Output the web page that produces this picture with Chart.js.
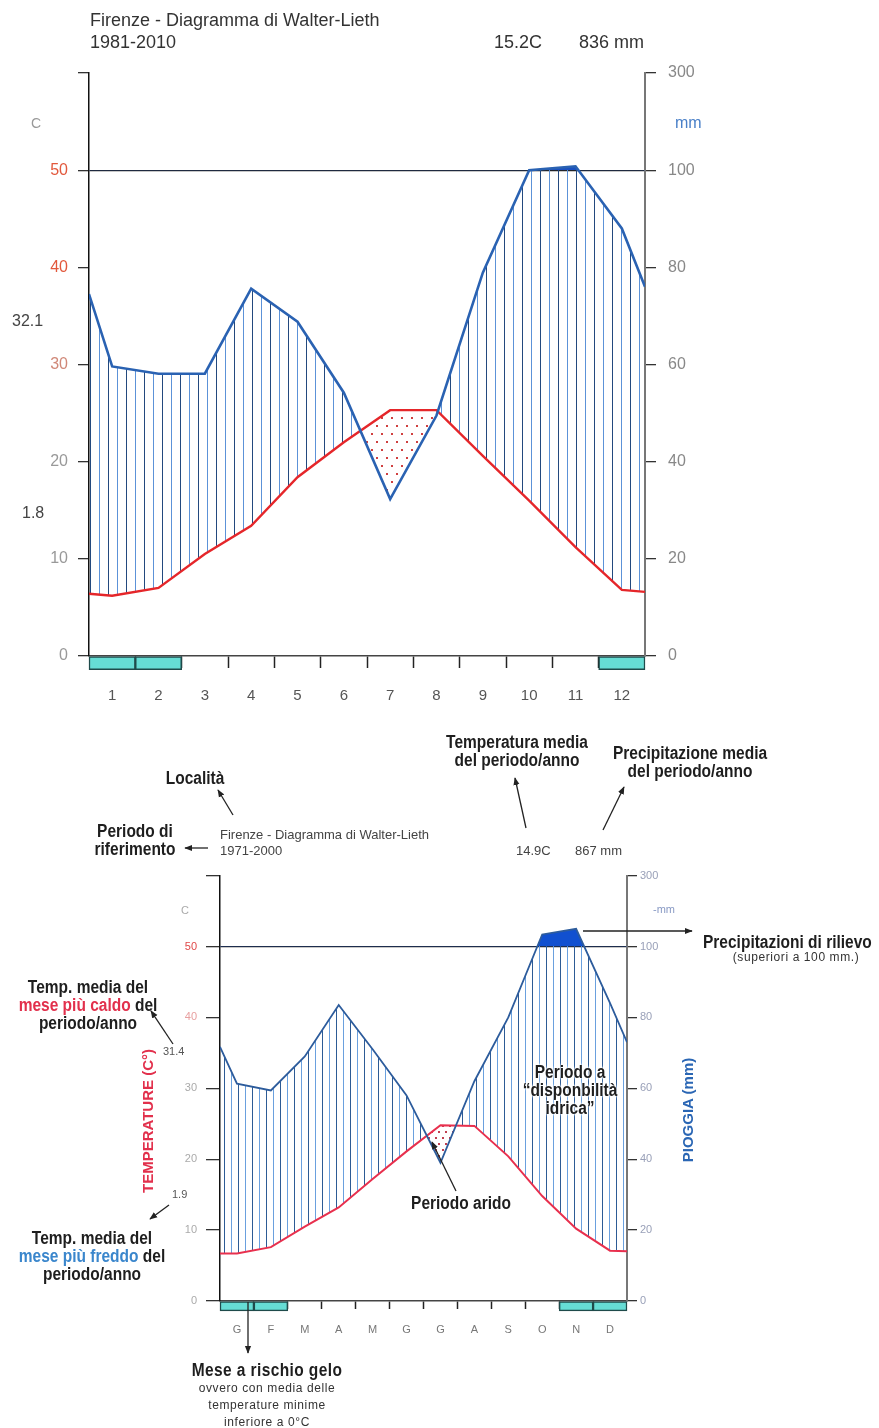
<!DOCTYPE html>
<html>
<head>
<meta charset="utf-8">
<script src="https://cdn.jsdelivr.net/npm/chart.js@4.4.1/dist/chart.umd.min.js"></script>
<style>
body { margin:0; background:#fff; }
#page { position:relative; width:879px; height:1428px; overflow:hidden; background:#fff;
        font-family:"Liberation Sans", Arial, sans-serif; }
canvas { position:absolute; left:0; }
svg { position:absolute; left:0; top:0; }
.t { position:absolute; white-space:nowrap; color:#333; line-height:1; }
.c { transform:translate(-50%, -50%); text-align:center; }
/* grassetto "stretto": Liberation Sans allungata in verticale */
.b { font-weight:bold; color:#1e1e1e; font-size:15.5px; line-height:15.6px;
     transform:scaleY(1.15); transform-origin:left center; }
.c.b { transform:translate(-50%, -50%) scaleY(1.15); transform-origin:center center; }
.s { color:#333; font-size:12px; line-height:17px; letter-spacing:0.6px; }
.rot { transform:translate(-50%, -50%) rotate(-90deg); font-weight:bold; font-size:15px; }
.halo { text-shadow:0 0 3px #fff, 0 0 3px #fff, 0 0 2px #fff; }
.red { color:#e2304c; }
.blue { color:#3a86cc; }
</style>
</head>
<body>
<div id="page">
  <canvas id="wl1" width="879" height="720" style="top:0"></canvas>
  <canvas id="wl2" width="879" height="491" style="top:860px"></canvas>

  <svg width="879" height="1428">
    <defs>
      <marker id="ah" viewBox="0 0 10 10" refX="9" refY="5" markerWidth="6" markerHeight="6" orient="auto">
        <path d="M0,1 L10,5 L0,9 z" fill="#222"/>
      </marker>
    </defs>
    <g stroke="#222" stroke-width="1.3" marker-end="url(#ah)">
      <line x1="233" y1="815" x2="218" y2="790"/>
      <line x1="208" y1="848" x2="185" y2="848"/>
      <line x1="526" y1="828" x2="515" y2="778"/>
      <line x1="603" y1="830" x2="624" y2="787"/>
      <line x1="583" y1="931" x2="692" y2="931"/>
      <line x1="173" y1="1044" x2="151" y2="1011"/>
      <line x1="169" y1="1205" x2="150" y2="1219"/>
      <line x1="456" y1="1191" x2="432" y2="1142"/>
      <line x1="248" y1="1302" x2="248" y2="1353"/>
    </g>
  </svg>

  <!-- diagramma 1981-2010 -->
  <div class="t" style="left:90px;top:11px;font-size:18px">Firenze - Diagramma di Walter-Lieth</div>
  <div class="t" style="left:90px;top:33px;font-size:18px">1981-2010</div>
  <div class="t" style="left:494px;top:33px;font-size:18px">15.2C</div>
  <div class="t" style="left:579px;top:33px;font-size:18px">836 mm</div>
  <div class="t c" style="left:36px;top:123px;font-size:14px;color:#999">C</div>
  <div class="t" style="left:675px;top:115px;font-size:16px;color:#4a80c8">mm</div>
  <div class="t" style="left:12px;top:313px;font-size:16px;color:#444">32.1</div>
  <div class="t" style="left:22px;top:505px;font-size:16px;color:#444">1.8</div>

  <!-- diagramma commentato 1971-2000 -->
  <div class="t b c" style="left:517px;top:751px">Temperatura media<br>del periodo/anno</div>
  <div class="t b c" style="left:690px;top:762px">Precipitazione media<br>del periodo/anno</div>
  <div class="t b c" style="left:195px;top:778px">Località</div>
  <div class="t b c" style="left:135px;top:840px">Periodo di<br>riferimento</div>
  <div class="t" style="left:220px;top:828px;font-size:13px;color:#444">Firenze - Diagramma di Walter-Lieth</div>
  <div class="t" style="left:220px;top:844px;font-size:13px;color:#444">1971-2000</div>
  <div class="t" style="left:516px;top:844px;font-size:13px;color:#444">14.9C</div>
  <div class="t" style="left:575px;top:844px;font-size:13px;color:#444">867 mm</div>
  <div class="t c" style="left:185px;top:910px;font-size:11px;color:#aaa">C</div>
  <div class="t" style="left:653px;top:904px;font-size:11px;color:#8899c4">-mm</div>

  <div class="t b" style="left:703px;top:934px">Precipitazioni di rilievo</div>
  <div class="t s c" style="left:796px;top:957px">(superiori a 100 mm.)</div>

  <div class="t b c" style="left:88px;top:1005px">Temp. media del<br><span class="red">mese più caldo</span> del<br>periodo/anno</div>
  <div class="t" style="left:163px;top:1046px;font-size:11px;color:#555">31.4</div>
  <div class="t" style="left:172px;top:1189px;font-size:11px;color:#555">1.9</div>
  <div class="t b c" style="left:92px;top:1256px">Temp. media del<br><span class="blue">mese più freddo</span> del<br>periodo/anno</div>

  <div class="t rot red" style="left:147px;top:1121px">TEMPERATURE (C°)</div>
  <div class="t rot" style="left:687px;top:1110px;color:#2a66b4">PIOGGIA (mm)</div>

  <div class="t b c halo" style="left:570px;top:1090px">Periodo a<br>“disponbilità<br>idrica”</div>
  <div class="t b c" style="left:461px;top:1203px">Periodo arido</div>

  <div class="t b c" style="left:267px;top:1370px;letter-spacing:0.4px">Mese a rischio gelo</div>
  <div class="t s c" style="left:267px;top:1405px">ovvero con media delle<br>temperature minime<br>inferiore a 0°C</div>
</div>

<script>
// valori (mm e gradi C)
const monthNums = ['1', '2', '3', '4', '5', '6', '7', '8', '9', '10', '11', '12'];
const monthLetters = ['G', 'F', 'M', 'A', 'M', 'G', 'G', 'A', 'S', 'O', 'N', 'D'];

// Firenze 1981-2010
const temp8110 = [6.2, 7.0, 10.5, 13.4, 18.4, 22.0, 25.3, 25.3, 20.6, 16.0, 11.2, 6.8];
const prec8110 = [59.6, 58.1, 58.1, 75.6, 68.8, 54.2, 32.3, 49.5, 78.9, 100, 108, 88];
const tempEdge8110 = [6.4, 6.6];      // bordo sinistro / destro (dic-gen)
const precEdge8110 = [74.5, 76];
const frost8110 = [1, 2, 12];

// Firenze 1971-2000
const temp7100 = [6.7, 7.6, 10.5, 13.2, 17.2, 21.1, 24.8, 24.7, 20.4, 14.8, 10.2, 7.1];
const prec7100 = [61.3, 59.4, 69, 83.5, 71, 58, 39, 62, 80, 134, 150, 84];
const tempEdge7100 = [6.7, 7.0];
const precEdge7100 = [71.7, 73];
const frost7100 = [1, 2, 11, 12];

const tempTicks = [0, 10, 20, 30, 40, 50, 60];
const precTicks = [0, 20, 40, 60, 80, 100, 120];
const precTickLabels = ['0', '20', '40', '60', '80', '100', '300'];

Chart.defaults.font.family = '"Liberation Sans", Arial, sans-serif';
Chart.defaults.animation = false;

// sopra i 100 mm la scala della pioggia e' ridotta a 1/10
function precScale(p)
{
    return p > 100 ? 100 + (p - 100) / 10 : p;
}

function series(vals, edges, f)
{
    f = f || (v => v);
    const pts = [{x: 0, y: f(edges[0])}];
    vals.forEach((v, i) => pts.push({x: i + 0.5, y: f(v)}));
    pts.push({x: 12, y: f(edges[1])});
    return pts;
}

function hatch(step, colors)
{
    const c = document.createElement('canvas');
    c.width = step * colors.length;
    c.height = 4;
    const g = c.getContext('2d');
    colors.forEach((col, i) => {
        g.fillStyle = col;
        g.fillRect(i * step, 0, 1, 4);
    });
    return g.createPattern(c, 'repeat');
}

function dots(sx, sy, color)
{
    const c = document.createElement('canvas');
    c.width = sx;
    c.height = sy * 2;
    const g = c.getContext('2d');
    g.fillStyle = color;
    g.fillRect(1, 1, 2, 2);
    g.fillRect(Math.floor(sx / 2) + 1, sy + 1, 2, 2);
    return g.createPattern(c, 'repeat');
}

function walterLieth(canvas, d, s)
{
    const temp = series(d.temp, d.tempEdge);
    const prec = series(d.prec, d.precEdge, precScale);

    const config = {
        type: 'line',
        data: {
            datasets: [
                {   // 0 temperatura
                    data: temp, yAxisID: 'y', xAxisID: 'x',
                    borderColor: s.red, borderWidth: s.redW,
                    pointRadius: 0, tension: 0, fill: false, order: 1,
                },
                {   // 1 pioggia
                    data: prec, yAxisID: 'y2', xAxisID: 'x',
                    borderColor: s.blue, borderWidth: s.blueW,
                    pointRadius: 0, tension: 0, fill: false, order: 0,
                },
                {   // 2 tratteggio umido / punteggiato arido
                    data: prec, yAxisID: 'y2', xAxisID: 'x',
                    borderWidth: 0, borderColor: 'rgba(0,0,0,0)', pointRadius: 0, tension: 0,
                    fill: {target: 0, above: hatch(s.hatch, s.hatchColors), below: dots(s.dotX, s.dotY, s.dotColor)},
                    order: 3,
                },
                {   // 3 oltre 100 mm
                    data: prec, yAxisID: 'y2', xAxisID: 'x',
                    borderWidth: 0, borderColor: 'rgba(0,0,0,0)', pointRadius: 0, tension: 0,
                    fill: {value: 100, above: s.solid, below: 'rgba(0,0,0,0)'},
                    order: 2,
                },
                {   // 4 mesi a rischio gelo
                    type: 'bar',
                    data: d.frost.map(m => ({x: m - 0.5, y: [-s.frostDepth, 0]})),
                    yAxisID: 'y', xAxisID: 'x',
                    backgroundColor: '#66ddd5', borderColor: '#1f4b4b', borderWidth: 1.5,
                    borderSkipped: false, barPercentage: 1, categoryPercentage: 1,
                    clip: false, order: 4,
                },
            ]
        },
        options: {
            responsive: false,
            events: [],
            layout: {padding: {top: s.top, left: 0, right: 0, bottom: 0}},
            plugins: {legend: {display: false}, tooltip: {enabled: false}},
            scales: {
                x: {
                    type: 'linear', position: 'bottom', min: 0, max: 12, offset: false, weight: 0,
                    afterBuildTicks: sc => { sc.ticks = [1, 2, 3, 4, 5, 6, 7, 8, 9, 10, 11].map(v => ({value: v})); },
                    afterFit: sc => { sc.height = s.xTickH; },
                    ticks: {display: false},
                    grid: {drawOnChartArea: false, tickLength: s.xTickLen, tickColor: '#222', tickWidth: 1.5, offset: false},
                    border: {display: true, color: '#444', width: 1.5},
                },
                x2: {
                    type: 'linear', position: 'bottom', min: 0, max: 12, offset: false, weight: 1,
                    afterBuildTicks: sc => { sc.ticks = d.labels.map((l, i) => ({value: i + 0.5})); },
                    afterFit: sc => { sc.height = s.xLabH; },
                    ticks: {
                        autoSkip: false, maxRotation: 0, padding: s.labPad,
                        color: s.monthColor, font: {size: s.monthFont},
                        callback: (v, i) => d.labels[i],
                    },
                    grid: {display: false, drawTicks: false},
                    border: {display: false},
                },
                y: {
                    position: 'left', min: 0, max: 60,
                    afterBuildTicks: sc => { sc.ticks = tempTicks.map(v => ({value: v})); },
                    afterFit: sc => { sc.width = s.left; },
                    ticks: {
                        padding: s.lPad, font: {size: s.tickFont},
                        color: c => s.tempColors[tempTicks.indexOf(c.tick.value)],
                        callback: v => v === 60 ? '' : v,
                    },
                    grid: {
                        color: c => c.tick && c.tick.value === 50 ? '#222' : 'rgba(0,0,0,0)',
                        tickColor: '#333', tickLength: s.lTickLen, lineWidth: 1.3,
                    },
                    border: {display: true, color: '#111', width: 1.5},
                },
                y2: {
                    position: 'right', min: 0, max: 120,
                    afterBuildTicks: sc => { sc.ticks = precTicks.map(v => ({value: v})); },
                    afterFit: sc => { sc.width = s.right; },
                    ticks: {
                        padding: s.rPad, font: {size: s.tickFont}, color: s.precColor,
                        callback: (v, i) => precTickLabels[i],
                    },
                    grid: {drawOnChartArea: false, tickColor: '#333', tickLength: s.rTickLen, lineWidth: 1.3},
                    border: {display: true, color: '#777', width: 2},
                },
            },
        },
    };

    return new Chart(canvas, config);
}

walterLieth(document.getElementById('wl1'),
    {temp: temp8110, prec: prec8110, tempEdge: tempEdge8110, precEdge: precEdge8110, frost: frost8110, labels: monthNums},
    {
        top: 73, left: 89, right: 234, xTickH: 14, xLabH: 50, xTickLen: 12, labPad: 17,
        lTickLen: 11, rTickLen: 11, lPad: 10, rPad: 12, tickFont: 16, monthFont: 15,
        monthColor: '#555', precColor: '#888',
        tempColors: ['#999', '#999', '#999', '#d08878', '#e2583c', '#e2583c', '#999'],
        red: '#e5262a', redW: 2.4, blue: '#2a62b2', blueW: 2.6,
        hatch: 9, hatchColors: ['#23497e', '#5c92d8'], dotX: 10, dotY: 8, dotColor: '#d04040',
        solid: '#1a50c0', frostDepth: 1.4,
    });

walterLieth(document.getElementById('wl2'),
    {temp: temp7100, prec: prec7100, tempEdge: tempEdge7100, precEdge: precEdge7100, frost: frost7100, labels: monthLetters},
    {
        top: 13, left: 220, right: 252, xTickH: 10, xLabH: 40, xTickLen: 8, labPad: 12,
        lTickLen: 14, rTickLen: 10, lPad: 9, rPad: 3, tickFont: 11, monthFont: 11,
        monthColor: '#777', precColor: '#99a0b8',
        tempColors: ['#aaa', '#aaa', '#aaa', '#aaa', '#e8a0a0', '#e04848', '#aaa'],
        red: '#e8304e', redW: 2, blue: '#2d5c9c', blueW: 1.8,
        hatch: 7, hatchColors: ['#2d5b95', '#6aa0de'], dotX: 7, dotY: 6, dotColor: '#c04050',
        solid: '#1150d0', frostDepth: 1.4,
    });
</script>
</body>
</html>
